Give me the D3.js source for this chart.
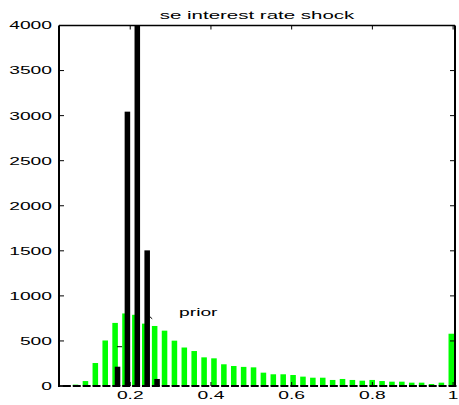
<!DOCTYPE html>
<html><head><meta charset="utf-8">
<script src="https://cdn.jsdelivr.net/npm/d3@7/dist/d3.min.js"></script>
<style>body{margin:0;background:#fff}svg{display:block}</style>
</head><body>
<script>
const binCenters = [0.040,0.0645,0.089,0.1135,0.138,0.1625,0.187,0.2115,0.236,0.2605,
  0.285,0.3095,0.334,0.3585,0.383,0.4075,0.432,0.4565,0.481,0.5055,
  0.53,0.5545,0.579,0.6035,0.628,0.6525,0.677,0.7015,0.726,0.7505,
  0.775,0.7995,0.824,0.8485,0.873,0.8975,0.922,0.9465,0.971,0.9955];
const priorCounts = [8,15,55,255,505,700,805,790,692,666,
  614,503,427,388,318,307,241,222,212,207,
  148,130,130,122,104,92,92,67,78,67,
  59,67,55,48,48,37,37,22,37,580];
const postCounts = [0,0,0,0,0,214,3044,4500,1505,78,
  0,0,0,0,0,0,0,0,0,0,
  0,0,0,0,0,0,0,0,0,0,
  0,0,0,0,0,0,0,0,0,0];
const xTicks = [0.2,0.4,0.6,0.8,1];
const xTickLabels = ["0.2","0.4","0.6","0.8","1"];
const yTicks = [0,500,1000,1500,2000,2500,3000,3500,4000];
const title = "se interest rate shock";
const priorLabel = {text:"prior", x:0.321, y:772};
const marks = [{x1:0.1674,x2:0.1798,y1:436,y2:436},{x1:0.2484,x2:0.2545,y1:770,y2:745}];

const W=459,H=405, L=59,R=455,T=25.5,B=386;
const sx=1.75, fs=11;
const x=d3.scaleLinear().domain([0.0235,1.0047]).range([L,R]);
const y=d3.scaleLinear().domain([0,4000]).range([B,T]);
const svg=d3.select("body").append("svg").attr("width",W).attr("height",H);
svg.append("defs").append("clipPath").attr("id","clip").append("rect")
  .attr("x",L).attr("y",T).attr("width",R-L).attr("height",B-T);
const step=x(binCenters[1])-x(binCenters[0]);
const bw=step*0.56, off=step*0.245;
const g=svg.append("g").attr("clip-path","url(#clip)");
// green prior bars
g.selectAll(".pr").data(binCenters).join("rect")
  .attr("x",(d)=>x(d)-bw/2).attr("width",bw)
  .attr("y",(d,i)=>y(priorCounts[i])).attr("height",(d,i)=>y(0)-y(priorCounts[i]))
  .attr("fill","#00ff00");
// black posterior bars
g.selectAll(".po").data(binCenters).join("rect")
  .attr("x",(d)=>x(d)+off-bw/2).attr("width",bw)
  .attr("y",(d,i)=>y(postCounts[i])).attr("height",(d,i)=>y(0)-y(postCounts[i]))
  .attr("fill","#000");
// baseline edges
svg.selectAll(".bl").data(binCenters).join("line")
  .attr("x1",(d)=>Math.max(L,x(d)-bw/2)).attr("x2",(d)=>x(d)+off+bw/2)
  .attr("y1",y(0)).attr("y2",y(0)).attr("stroke","#000").attr("stroke-width",2);
// box
const box=svg.append("g").attr("stroke","#000").attr("fill","none");
box.append("line").attr("x1",L).attr("x2",L).attr("y1",T).attr("y2",B+1).attr("stroke-width",2);
box.append("line").attr("x1",R).attr("x2",R).attr("y1",T).attr("y2",B+1).attr("stroke-width",2);
box.append("line").attr("x1",L).attr("x2",R).attr("y1",T).attr("y2",T).attr("stroke-width",1.5);
box.append("line").attr("x1",L).attr("x2",L+4).attr("y1",B).attr("y2",B).attr("stroke-width",1.5);
// ticks
const tl=4;
xTicks.forEach(v=>{
  box.append("line").attr("x1",x(v)).attr("x2",x(v)).attr("y1",T).attr("y2",T+tl).attr("stroke-width",1);
  box.append("line").attr("x1",x(v)).attr("x2",x(v)).attr("y1",B).attr("y2",B-tl).attr("stroke-width",1);
});
yTicks.forEach(v=>{
  box.append("line").attr("x1",L).attr("x2",L+tl+1).attr("y1",y(v)).attr("y2",y(v)).attr("stroke-width",1);
  box.append("line").attr("x1",R).attr("x2",R-tl-1).attr("y1",y(v)).attr("y2",y(v)).attr("stroke-width",1);
});
const font="'Liberation Sans', Arial, sans-serif";
function txt(str,px,py,anchor,size,scale){
  svg.append("text").attr("transform",`translate(${px},${py}) scale(${scale},1)`)
    .attr("text-anchor",anchor).attr("font-family",font).attr("font-size",size)
    .attr("fill","#000").text(str);
}
yTicks.forEach(v=>txt(String(v),52,y(v)+3.9,"end",fs,sx));
xTicks.forEach((v,i)=>txt(xTickLabels[i],x(v),399,"middle",fs,sx));
txt(title,(L+R)/2,19,"middle",11.5,1.78);
txt(priorLabel.text,x(priorLabel.x),y(priorLabel.y),"start",fs,sx);
marks.forEach(m=>svg.append("line").attr("x1",x(m.x1)).attr("x2",x(m.x2))
  .attr("y1",y(m.y1)).attr("y2",y(m.y2)).attr("stroke","#000").attr("stroke-width",1));
</script>
</body></html>
